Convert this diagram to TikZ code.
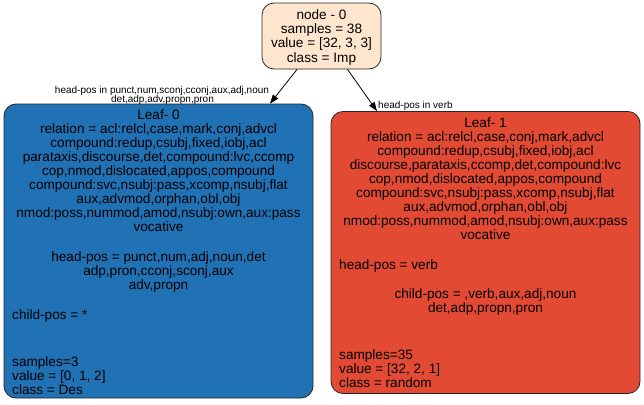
\documentclass[tikz,border=0pt]{standalone}
\usepackage{fontspec}
\setmainfont{Liberation Sans}
\usetikzlibrary{calc,arrows.meta}
\definecolor{rootfill}{RGB}{254,230,206}
\definecolor{bluefill}{RGB}{33,113,181}
\definecolor{redfill}{RGB}{227,74,51}
\tikzset{
  box/.style={draw=black!85, line width=0.8pt, rounded corners=12pt, inner sep=0pt},
  txt/.style={inner sep=0pt, anchor=base, font=\fontsize{13.6}{14}\selectfont},
  ltxt/.style={inner sep=0pt, anchor=base west, font=\fontsize{13.6}{14}\selectfont},
  elab/.style={inner sep=0pt, anchor=base, font=\fontsize{10}{10}\selectfont},
  edge/.style={draw=black, line width=0.8pt, -{Triangle[length=9pt,width=6.5pt]}}
}
\begin{document}
\begin{tikzpicture}[x=1pt,y=-1pt]
\useasboundingbox (0,0) rectangle (644,404);
% boxes
\node[box, fill=rootfill, minimum width=119pt, minimum height=66pt] (root) at (321.5,36) {};
\node[box, fill=bluefill, minimum width=309pt, minimum height=294pt] (leaf0) at (158.5,251) {};
\node[box, fill=redfill, minimum width=309pt, minimum height=282pt] (leaf1) at (485.5,252.5) {};
% root text
\foreach \t [count=\i] in {{node - 0},{samples = 38},{value = [32, 3, 3]},{class = Imp}}
  \node[txt, name=r\i] at (321.5, 20+14*\i-14) {\t};
% left leaf text
\foreach \t [count=\i] in {{Leaf- 0},{relation = acl:relcl,case,mark,conj,advcl},{compound:redup,csubj,fixed,iobj,acl},{parataxis,discourse,det,compound:lvc,ccomp},{cop,nmod,dislocated,appos,compound},{compound:svc,nsubj:pass,xcomp,nsubj,flat},{aux,advmod,orphan,obl,obj},{nmod:poss,nummod,amod,nsubj:own,aux:pass},{vocative}}
  \node[txt, name=a\i] at (158.5, 119+14*\i-14) {\t};
\foreach \t [count=\i] in {{head-pos = punct,num,adj,noun,det},{adp,pron,cconj,sconj,aux},{adv,propn}}
  \node[txt, name=b\i] at (158.5, 261+14*\i-14) {\t};
\node[ltxt] (c1) at (12,319) {child-pos = *};
\foreach \t [count=\i] in {{samples=3},{value = [0, 1, 2]},{class = Des}}
  \node[ltxt, name=d\i] at (12, 366+14*\i-14) {\t};
% right leaf text
\foreach \t [count=\i] in {{Leaf- 1},{relation = acl:relcl,case,conj,mark,advcl},{compound:redup,csubj,fixed,iobj,acl},{discourse,parataxis,ccomp,det,compound:lvc},{cop,nmod,dislocated,appos,compound},{compound:svc,nsubj:pass,xcomp,nsubj,flat},{aux,advmod,orphan,obl,obj},{nmod:poss,nummod,amod,nsubj:own,aux:pass},{vocative}}
  \node[txt, name=e\i] at (485.5, 127+14*\i-14) {\t};
\node[ltxt] (f1) at (339,269) {head-pos = verb};
\node[txt] (g1) at (485.5,298) {child-pos = ,verb,aux,adj,noun};
\node[txt] (g2) at (485.5,312) {det,adp,propn,pron};
\foreach \t [count=\i] in {{samples=35},{value = [32, 2, 1]},{class = random}}
  \node[ltxt, name=h\i] at (339, 359+14*\i-14) {\t};
% edges
\draw[edge] ($(root.south)+(-24.5,0)$) -- ($(leaf0.north)+(111.5,0)$);
\draw[edge] ($(root.south)+(26,0)$) -- ($(leaf1.north)+(-108.5,0)$);
% edge labels
\node[elab] (l1) at (162,93) {head-pos in punct,num,sconj,cconj,aux,adj,noun};
\node[elab] (l2) at (162.5,102.5) {det,adp,adv,propn,pron};
\node[elab, anchor=base west] (l3) at (378,108.5) {head-pos in verb};
\end{tikzpicture}
\end{document}
